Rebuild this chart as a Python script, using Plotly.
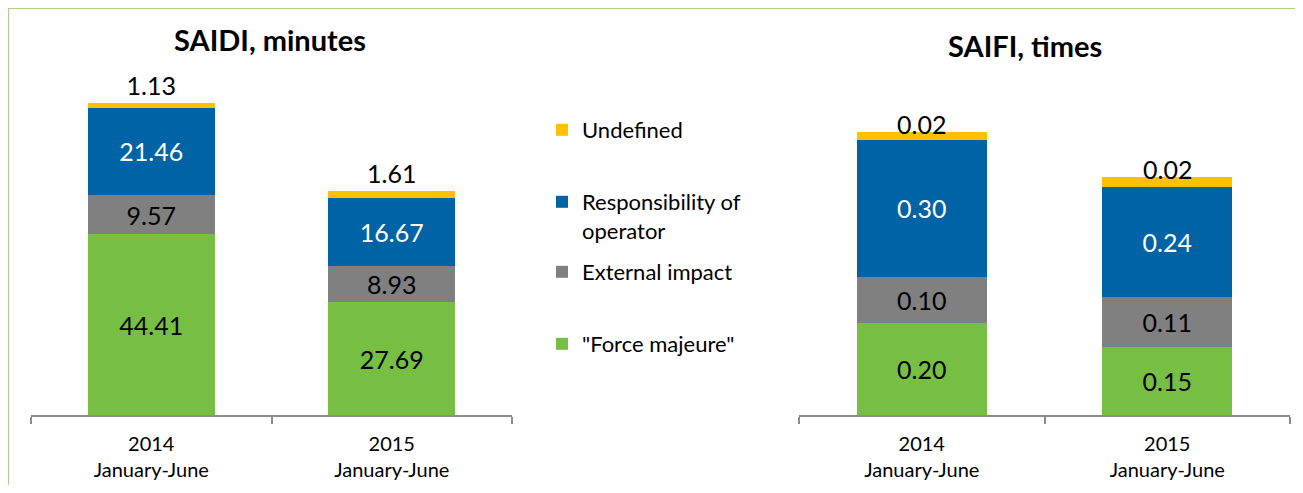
import plotly.graph_objects as go

W, H = 1303, 493
OFF = 8  # page body margin
FW, FH = W - 2 * OFF, H - 2 * OFF

categories = ["2014<br>January-June", "2015<br>January-June"]
series_names = ['"Force majeure"', "External impact", "Responsibility of<br>operator", "Undefined"]
colors = ["#77BF43", "#808080", "#0063A6", "#FFC000"]
text_colors = ["black", "black", "white", "black"]

# SAIDI, minutes
saidi_force = [44.41, 27.69]
saidi_external = [9.57, 8.93]
saidi_operator = [21.46, 16.67]
saidi_undefined = [1.13, 1.61]

# SAIFI, times
saifi_force = [0.20, 0.148]
saifi_external = [0.10, 0.109]
saifi_operator = [0.298, 0.239]
saifi_undefined = [0.017, 0.022]

saidi = [saidi_force, saidi_external, saidi_operator, saidi_undefined]
saifi = [saifi_force, saifi_external, saifi_operator, saifi_undefined]

FONT = "Lato"
LABEL_SIZE = 25

def px_x(p):
    return (p - OFF) / FW

def px_y(p):
    return (FH - (p - OFF)) / FH

fig = go.Figure()

legend_ids = ["legend4", "legend3", "legend2", "legend"]

for i, name in enumerate(series_names):
    top = (i == 3)
    for vals, xa, ya, left in ((saidi[i], "x", "y", True), (saifi[i], "x2", "y2", False)):
        kw = dict(legend=legend_ids[i]) if left else {}
        if top and not left:
            tt, tp = "", "none"
        else:
            tt, tp = "%{y:.2f}", ("outside" if top else "inside")
        fig.add_trace(go.Bar(
            x=categories, y=vals, name=name,
            marker=dict(color=colors[i], line=dict(width=0)),
            texttemplate=tt,
            textposition=tp,
            insidetextanchor="middle",
            textfont=dict(family=FONT, size=LABEL_SIZE, color=text_colors[i]),
            outsidetextfont=dict(family=FONT, size=LABEL_SIZE, color="black"),
            cliponaxis=False,
            xaxis=xa, yaxis=ya,
            showlegend=left,
            hoverinfo="skip",
            **kw,
        ))

# SAIFI "Undefined" labels sit on the top edge of the bar
saifi_totals = [sum(s[j] for s in saifi) for j in range(len(categories))]
annotations = []
for j, cat in enumerate(categories):
    annotations.append(dict(
        text=f"{saifi_undefined[j]:.2f}", x=cat, y=saifi_totals[j], xref="x2", yref="y2",
        xanchor="center", yanchor="middle", yshift=8, showarrow=False,
        font=dict(family=FONT, size=LABEL_SIZE, color="black"),
    ))

axis_common = dict(
    showgrid=False, zeroline=False,
    showline=True, linecolor="#8C8C8C", linewidth=2,
    ticks="outside", tickson="boundaries", ticklen=7, tickwidth=2, tickcolor="#8C8C8C",
    tickfont=dict(family=FONT, size=20, color="black"),
    ticklabelstandoff=10,
    fixedrange=True,
)
yaxis_common = dict(showgrid=False, zeroline=False, showline=False, showticklabels=False,
                    ticks="", fixedrange=True)

y_dom = [px_y(415), px_y(89)]

legend_common = dict(
    font=dict(family=FONT, size=22, color="black"),
    bgcolor="rgba(0,0,0,0)", borderwidth=0,
    valign="top", xanchor="left", yanchor="top",
    itemclick=False, itemdoubleclick=False,
)
leg_x = px_x(542)
leg_centers = {"legend": 129, "legend2": 201, "legend3": 271, "legend4": 343}

layout_legends = {}
for lid, cy in leg_centers.items():
    layout_legends[lid] = dict(legend_common, x=leg_x, y=px_y(cy - 20))

annotations += [
    dict(text="<b>SAIDI, minutes</b>", x=px_x(270), y=px_y(39), xref="paper", yref="paper",
         xanchor="center", yanchor="middle", showarrow=False,
         font=dict(family=FONT, size=29, color="black")),
    dict(text="<b>SAIFI, times</b>", x=px_x(1025), y=px_y(46), xref="paper", yref="paper",
         xanchor="center", yanchor="middle", showarrow=False,
         font=dict(family=FONT, size=29, color="black")),
]

fig.update_layout(
    width=FW, height=FH,
    margin=dict(l=0, r=0, t=0, b=0),
    paper_bgcolor="white", plot_bgcolor="white",
    barmode="stack", bargap=0.47,
    font=dict(family=FONT, color="black"),
    xaxis=dict(axis_common, domain=[px_x(31), px_x(512)]),
    xaxis2=dict(axis_common, domain=[px_x(799), px_x(1290)], anchor="y2"),
    yaxis=dict(yaxis_common, domain=y_dom, range=[0, 80]),
    yaxis2=dict(yaxis_common, domain=y_dom, range=[0, 0.7087], anchor="x2"),
    **layout_legends,
    annotations=annotations,
    shapes=[
        dict(type="line", xref="paper", yref="paper", x0=px_x(8), x1=1, y0=px_y(8), y1=px_y(8),
             line=dict(color="#A9D18E", width=2)),
        dict(type="line", xref="paper", yref="paper", x0=px_x(8), x1=px_x(8), y0=0, y1=px_y(8),
             line=dict(color="#A9D18E", width=2)),
    ],
)

fig.write_html("out.html")
